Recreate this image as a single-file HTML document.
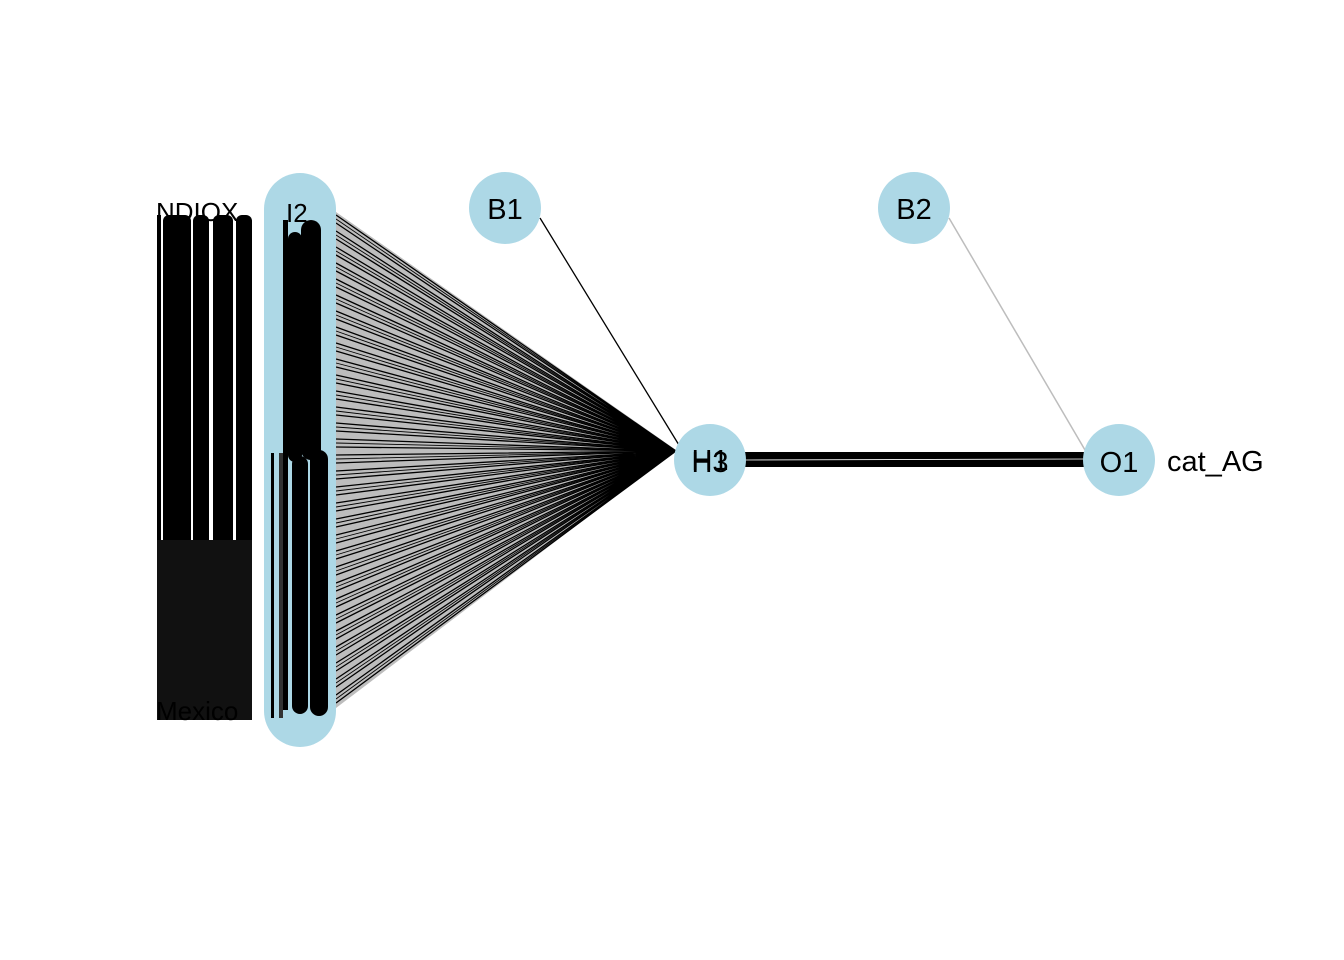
<!DOCTYPE html>
<html><head><meta charset="utf-8"><style>
html,body{margin:0;padding:0;background:#fff;}
svg{display:block}
text{font-family:"Liberation Sans",sans-serif;font-size:29px;fill:#000}
</style></head><body>
<svg width="1344" height="960" viewBox="0 0 1344 960">
<polygon points="336,212 676,450 336,708" fill="#bdbdbd"/>
<path stroke="#000" stroke-width="1.3" fill="none" d="
M336 215L676 451M336 223L676 451M336 231L676 451M336 239L676 451M336 247L676 451M336 255L676 451M336 263L676 451M336 271L676 451M336 279L676 451M336 287L676 451
M336 295L676 451M336 303L676 451M336 311L676 451M336 319L676 451M336 327L676 451M336 335L676 451M336 343L676 451M336 351L676 451M336 359L676 451M336 367L676 451
M336 375L676 451M336 383L676 451M336 391L676 451M336 399L676 451M336 407L676 451M336 415L676 451M336 423L676 451M336 431L676 451M336 439L676 451M336 447L676 451
M336 455L676 451M336 463L676 451M336 471L676 451M336 479L676 451M336 487L676 451M336 495L676 451M336 503L676 451M336 511L676 451M336 519L676 451M336 527L676 451
M336 535L676 451M336 543L676 451M336 551L676 451M336 559L676 451M336 567L676 451M336 575L676 451M336 583L676 451M336 591L676 451M336 599L676 451M336 607L676 451
M336 615L676 451M336 623L676 451M336 631L676 451M336 639L676 451M336 647L676 451M336 655L676 451M336 663L676 451M336 671L676 451M336 679L676 451M336 687L676 451
M336 695L676 451M336 703L676 451"/>
<path stroke="#000" stroke-width="0.9" fill="none" d="
M336 219L676 451M336 235L676 451M336 251L676 451M336 267L676 451M336 283L676 451M336 299L676 451M336 315L676 451M336 331L676 451M336 347L676 451M336 363L676 451
M336 379L676 451M336 395L676 451M336 411L676 451M336 427L676 451M336 443L676 451M336 459L676 451M336 475L676 451M336 491L676 451M336 507L676 451M336 523L676 451
M336 539L676 451M336 555L676 451M336 571L676 451M336 587L676 451M336 603L676 451M336 619L676 451M336 635L676 451M336 651L676 451M336 667L676 451M336 683L676 451M336 699L676 451"/>
<line x1="540" y1="218" x2="682" y2="450" stroke="#000" stroke-width="1.3"/>
<line x1="949" y1="218" x2="1085" y2="450" stroke="#bdbdbd" stroke-width="1.5"/>
<rect x="744" y="452" width="342" height="15" fill="#000"/>
<line x1="744" y1="460" x2="1086" y2="459" stroke="#fff" stroke-width="0.8"/>
<rect x="264" y="173" width="72" height="574" rx="36" fill="#add8e6"/>
<rect x="283" y="220" width="5" height="490" fill="#000"/>
<rect x="288" y="232" width="14" height="230" rx="7" fill="#000"/>
<rect x="301" y="220" width="20" height="240" rx="10" fill="#000"/>
<rect x="271" y="453" width="3" height="265" fill="#000"/>
<rect x="279" y="453" width="4" height="265" fill="#333"/>
<rect x="292" y="456" width="16" height="258" rx="8" fill="#000"/>
<rect x="310" y="450" width="18" height="266" rx="9" fill="#000"/>
<text x="286" y="222" style="font-size:26px">I2</text>
<rect x="157" y="215" width="4" height="500" fill="#000"/>
<rect x="163" y="215" width="28" height="500" rx="6" fill="#000"/>
<rect x="193" y="215" width="16" height="500" rx="6" fill="#000"/>
<rect x="213" y="215" width="20" height="500" rx="6" fill="#000"/>
<rect x="236" y="215" width="16" height="500" rx="6" fill="#000"/>
<rect x="157" y="540" width="95" height="180" fill="#111"/>
<text x="156" y="221" style="font-size:26px">NDIOX</text>
<text x="156" y="720" style="font-size:26px">Mexico</text>
<circle cx="505" cy="208" r="36" fill="#add8e6"/>
<text x="505" y="219" text-anchor="middle">B1</text>
<circle cx="914" cy="208" r="36" fill="#add8e6"/>
<text x="914" y="219" text-anchor="middle">B2</text>
<circle cx="710" cy="460" r="36" fill="#add8e6"/>
<text x="710" y="472" text-anchor="middle">H3</text>
<text x="710" y="470" text-anchor="middle">H1</text>
<circle cx="1119" cy="460" r="36" fill="#add8e6"/>
<text x="1119" y="472" text-anchor="middle">O1</text>
<svg x="0" y="0" width="1265" height="960"><text x="1167" y="471">cat_AGE</text></svg>
</svg>
</body></html>
